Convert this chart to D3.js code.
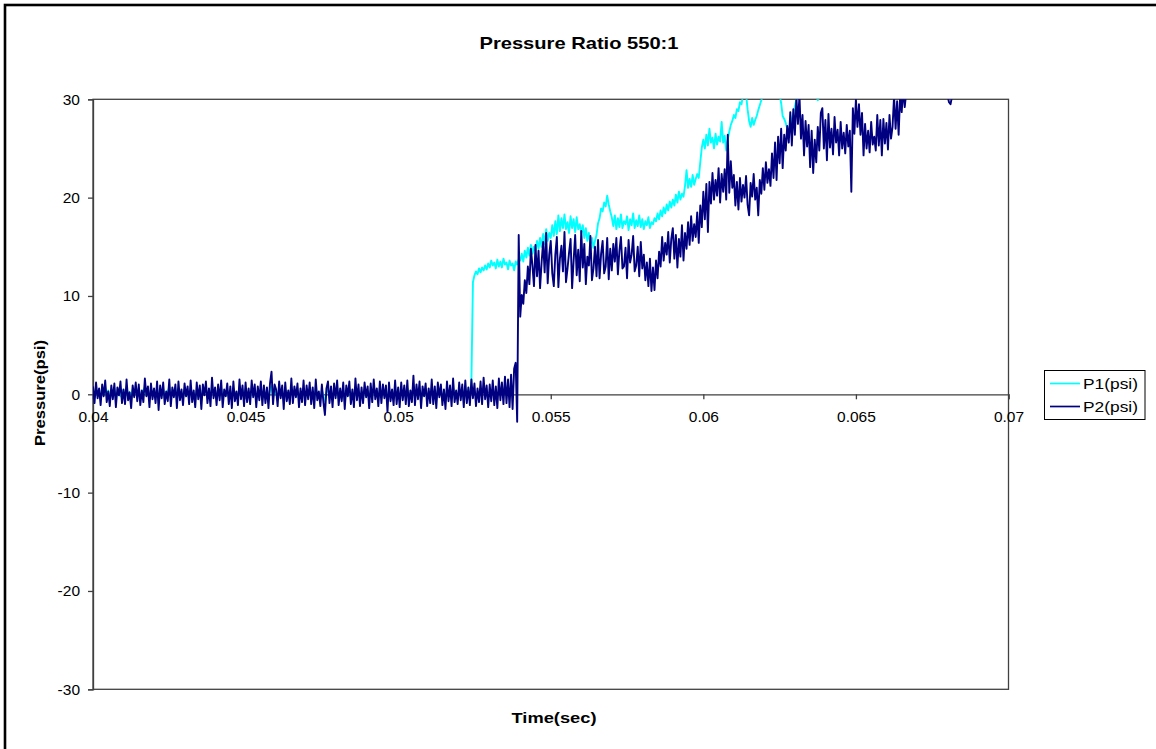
<!DOCTYPE html>
<html>
<head>
<meta charset="utf-8">
<script src="https://cdn.jsdelivr.net/npm/d3@7"></script>
<style>
  html, body { margin: 0; padding: 0; background: #fff; overflow: hidden; }
  svg { display: block; }
  text { font-family: "Liberation Sans", Arial, Helvetica, sans-serif; fill: #000; }
</style>
</head>
<body>
<svg id="chart" width="1156" height="749"></svg>
<script>
// Transducer readings, sampled every 50 microseconds from t = 0.04 s
const sampleStart = 0.04;
const sampleStep = 0.00005;

const p1Pressure = [
  0.4,-0.3,0.6,0.0,0.5,-0.4,0.3,0.1,0.7,-0.2,0.4,-0.5,0.2,0.3,0.6,-0.3,0.1,0.5,-0.2,0.4,
  0.3,-0.4,0.7,0.0,0.2,-0.5,0.5,0.1,0.4,-0.2,0.6,-0.3,0.0,0.4,0.7,-0.1,0.3,-0.4,0.5,0.2,
  0.1,-0.3,0.6,-0.5,0.4,0.0,0.5,-0.4,0.2,0.3,0.7,-0.2,0.1,0.4,0.5,-0.5,0.6,0.0,0.2,-0.3,
  0.5,0.1,0.3,-0.4,0.6,-0.2,0.0,-0.5,0.4,0.2,0.3,-0.6,0.5,0.1,0.6,-0.3,0.2,-0.4,0.8,0.0,
  0.3,-0.4,0.5,0.1,0.6,-0.5,0.2,0.0,0.4,-0.3,0.3,-0.5,0.6,-0.1,0.1,-0.4,0.7,0.0,0.4,-0.3,
  0.5,-0.2,0.2,-0.4,0.6,0.0,0.4,-0.5,0.3,0.1,0.5,-0.4,0.4,-0.2,0.2,-0.5,0.5,0.8,-0.3,0.4,
  0.1,-0.4,0.6,0.0,0.3,-0.6,0.5,-0.1,0.0,-0.3,0.7,-0.2,0.3,0.1,0.4,-0.5,0.2,-0.2,0.6,-0.4,
  0.3,0.0,0.5,-0.3,0.2,-0.5,0.6,-0.1,0.1,-0.4,0.4,-0.2,-0.7,0.2,0.5,-0.3,0.3,-0.5,0.4,0.0,
  0.6,-0.4,0.2,-0.1,0.5,-0.6,0.3,0.1,0.5,-0.3,0.2,-0.5,0.7,-0.2,0.4,-0.4,0.2,-0.3,0.5,0.0,
  0.3,-0.5,0.4,-0.2,0.6,-0.1,0.2,-0.4,0.5,-0.3,0.4,0.0,0.3,-0.6,0.5,-0.2,0.1,-0.4,0.6,-0.3,
  0.2,-0.5,0.5,-0.1,0.3,-0.3,0.6,-0.4,0.1,-0.2,0.8,-0.4,0.4,-0.1,0.5,-0.5,0.3,0.0,0.4,-0.4,
  0.2,-0.3,0.6,-0.3,0.3,-0.5,0.5,0.0,0.4,-0.4,0.1,-0.6,0.5,-0.2,0.3,-0.4,0.7,-0.3,0.1,-0.3,
  0.5,-0.1,0.4,-0.5,0.6,-0.3,0.3,-0.2,1.4,11.4,12.1,12.5,12.2,12.8,12.4,12.9,12.6,13.1,12.7,13.3,
  12.9,13.6,13.1,13.4,12.8,13.7,13.0,13.5,12.9,13.8,13.2,13.4,12.7,13.6,13.1,13.3,12.6,13.5,13.2,13.7,
  13.6,14.3,13.5,14.6,13.9,14.9,14.1,15.2,14.3,15.0,14.6,15.6,14.8,15.9,15.0,16.3,15.3,16.8,15.6,16.4,
  15.9,17.2,16.1,17.6,16.3,18.2,16.6,17.9,16.9,18.3,16.8,17.5,16.4,18.1,16.9,17.8,16.5,18.0,16.8,17.3,
  16.4,17.2,15.9,16.9,15.6,16.4,15.3,15.9,14.9,15.6,16.2,17.4,17.9,18.9,18.6,19.5,19.1,20.2,19.3,18.6,
  18.0,17.1,18.2,16.8,17.9,17.0,18.3,16.9,17.6,17.3,18.1,16.7,17.8,17.2,18.4,16.9,17.7,17.1,18.2,17.0,
  17.8,16.8,17.6,17.2,18.0,16.9,17.5,17.3,17.9,17.6,18.4,17.8,18.7,18.1,19.0,18.4,19.3,18.7,19.6,19.0,
  19.8,19.2,20.3,19.5,20.6,19.8,20.4,20.1,21.2,22.8,21.0,21.9,21.1,22.3,21.3,21.9,22.4,22.0,23.6,25.1,
  25.9,25.0,26.4,25.3,27.0,25.6,26.1,25.0,26.5,25.4,26.2,25.7,27.7,25.6,26.3,24.8,25.9,26.7,27.4,27.8,
  28.4,28.1,29.0,28.8,29.7,29.5,30.4,30.6,30.5,29.0,27.8,27.2,28.1,27.4,27.9,28.3,28.9,29.4,29.9,30.3,
  30.8,31.2,31.5,31.8,32.0,31.6,31.3,30.9,30.6,30.3,30.5,29.6,28.3,28.0,27.6,27.0,26.8,27.3,28.0,28.6,
  29.3,30.0,30.2,30.8,31.3,31.6,31.9,32.2,32.0,31.7,31.4,31.1,30.8,30.5,30.3,29.9,30.2,30.6,31.0,31.5,
  31.8,32.0,32.3,32.1,32.4
];

const p2Pressure = [
  0.8,-0.9,1.2,-0.4,0.6,-1.1,1.0,-0.2,1.4,-0.8,0.3,-1.2,0.9,-0.5,1.1,-1.3,0.7,-0.1,1.3,-0.9,
  0.5,-1.0,1.5,-0.6,0.2,-1.4,0.9,-0.3,1.2,-0.7,1.0,-1.1,0.4,-0.8,1.6,-0.2,0.8,-1.3,1.1,-0.5,
  0.6,-0.9,1.3,-1.6,0.9,-0.4,1.2,-1.0,0.3,-0.7,1.5,-1.2,0.7,-0.3,1.0,-1.4,1.3,-0.6,0.5,-1.1,
  1.1,-0.2,0.8,-1.0,1.4,-0.8,0.4,-1.3,1.2,-0.5,0.9,-1.5,1.0,-0.1,1.3,-0.9,0.6,-1.2,1.7,-0.4,
  0.7,-1.1,1.0,-0.6,1.4,-1.3,0.5,-0.2,1.1,-1.0,0.8,-1.4,1.3,-0.7,0.3,-1.1,1.5,-0.5,0.9,-1.2,
  1.2,-0.8,0.6,-1.0,1.4,-0.3,1.0,-1.3,0.8,-0.6,1.3,-1.1,0.9,-0.9,0.7,-1.4,1.1,2.3,-1.0,1.0,
  0.5,-1.2,1.3,-0.4,0.9,-1.5,1.2,-0.7,0.4,-1.0,1.6,-0.9,0.8,-0.3,1.1,-1.3,0.6,-0.8,1.4,-1.1,
  0.9,-0.5,1.2,-1.0,0.7,-1.4,1.5,-0.6,0.3,-1.2,1.0,-0.8,-2.1,0.6,1.3,-0.9,0.8,-1.3,1.1,-0.4,
  1.4,-1.1,0.6,-0.7,1.2,-1.5,0.9,-0.2,1.3,-1.0,0.5,-1.3,1.6,-0.6,1.0,-1.2,0.7,-0.9,1.2,-0.3,
  0.8,-1.4,1.1,-0.8,1.5,-0.5,0.6,-1.2,1.3,-0.9,1.0,-0.4,0.9,-1.8,1.2,-0.7,0.5,-1.1,1.4,-1.0,
  0.7,-1.3,1.2,-0.6,0.9,-1.0,1.4,-1.2,0.4,-0.8,1.9,-1.1,1.0,-0.5,1.3,-1.4,0.8,-0.2,1.1,-1.2,
  0.6,-0.9,1.5,-1.0,0.8,-1.4,1.2,-0.3,1.0,-1.1,0.5,-1.5,1.3,-0.7,0.9,-1.2,1.6,-0.8,0.4,-1.0,
  1.2,-0.6,1.0,-1.3,1.4,-0.9,0.7,-1.1,1.5,-0.4,1.1,-1.2,0.6,-0.8,1.3,-1.0,1.7,-0.5,0.9,-1.3,
  1.0,-0.7,1.4,-1.1,0.8,-1.4,1.6,-0.6,1.2,-1.0,1.8,-0.9,1.5,-1.3,2.0,-1.5,2.6,3.2,-2.8,16.2,
  7.9,10.1,9.2,11.6,10.3,13.0,11.2,14.8,13.1,11.0,15.2,12.0,14.6,10.8,13.4,15.5,12.4,16.4,11.3,14.2,
  15.6,12.3,11.0,14.2,16.0,10.9,13.8,15.1,12.5,16.5,11.4,12.8,14.4,15.8,10.8,13.6,16.2,12.1,14.7,11.5,
  16.6,12.9,15.3,11.2,14.0,13.1,16.1,11.6,12.8,15.0,12.0,15.7,11.8,14.3,15.6,12.3,13.0,15.9,11.7,14.8,
  12.6,15.3,13.5,15.9,12.2,14.6,16.0,12.8,13.0,14.9,11.8,15.7,13.4,14.2,16.1,12.5,13.1,15.0,12.0,15.5,
  12.8,14.2,11.6,13.4,11.0,13.8,10.5,12.9,10.6,13.6,11.8,14.5,13.0,16.0,13.6,15.4,14.2,16.5,13.4,15.8,
  16.9,13.8,16.2,12.9,15.8,14.0,17.2,13.6,16.4,14.8,17.5,15.2,18.1,15.6,17.3,16.0,18.5,15.4,19.2,17.0,
  20.6,17.8,21.4,16.5,21.6,19.4,22.5,19.8,21.8,20.2,23.0,19.5,22.4,20.6,22.9,19.8,26.4,20.5,23.7,21.0,
  22.3,19.2,21.6,18.8,22.0,19.6,21.3,20.0,22.2,19.3,18.2,21.5,20.1,22.4,19.8,21.0,18.2,21.8,20.4,23.0,
  20.8,23.6,21.5,22.9,21.2,24.5,22.0,25.6,21.8,26.2,23.5,27.0,23.0,26.4,24.8,27.3,25.6,28.7,25.3,29.0,
  26.4,30.2,27.5,30.4,26.0,28.4,24.3,27.8,25.2,27.4,23.1,26.8,22.5,25.9,23.6,27.2,24.8,28.6,29.1,25.0,
  27.9,23.8,28.5,25.1,27.0,24.4,28.2,25.6,26.9,24.3,27.7,25.0,26.6,24.5,27.4,25.2,26.8,20.6,29.1,26.5,
  30.0,27.2,29.5,26.4,28.6,24.3,27.5,25.0,26.8,24.6,27.7,25.4,26.2,24.8,28.4,25.3,27.9,24.3,28.0,25.5,
  27.6,24.9,28.4,26.0,27.2,30.3,27.0,29.8,26.4,30.5,28.7,31.0,29.2,30.8,31.5,32.0,31.2,32.5,31.8,32.2,
  33.0,32.4,31.6,32.8,33.5,32.1,31.8,32.9,33.4,32.6,31.9,32.7,33.2,32.0,31.5,32.3,31.4,30.8,31.2,30.6,
  30.4,29.7,29.5,30.3,31.0,31.8,32.5,31.6,32.2,33.0
];

const seriesNames = ["P1(psi)", "P2(psi)"];
const seriesColors = ["#00ffff", "#000080"];
const xTicks = [0.04, 0.045, 0.05, 0.055, 0.06, 0.065, 0.07];
const yTicks = [-30, -20, -10, 0, 10, 20, 30];
const chartTitle = "Pressure Ratio 550:1";
const xTitle = "Time(sec)";
const yTitle = "Pressure(psi)";

const svg = d3.select("#chart");

// outer chart frame (runs past the right and bottom edges)
svg.append("rect")
  .attr("x", 5).attr("y", 5)
  .attr("width", 1300).attr("height", 900)
  .attr("fill", "#fff")
  .attr("stroke", "#000").attr("stroke-width", 2.6);

const plot = { left: 93, right: 1008.5, top: 99.3, bottom: 689.3 };

const x = d3.scaleLinear().domain([0.04, 0.07]).range([plot.left, plot.right]);
const y = d3.scaleLinear().domain([-30, 30]).range([plot.bottom, plot.top]);

svg.append("defs").append("clipPath").attr("id", "plotClip")
  .append("rect")
  .attr("x", plot.left).attr("y", plot.top)
  .attr("width", plot.right - plot.left).attr("height", plot.bottom - plot.top);

// plot area frame
svg.append("rect")
  .attr("x", plot.left).attr("y", plot.top)
  .attr("width", plot.right - plot.left).attr("height", plot.bottom - plot.top)
  .attr("fill", "none").attr("stroke", "#404040").attr("stroke-width", 1.3);

// y axis on the left edge
const yAxis = d3.axisLeft(y).tickValues(yTicks).tickSize(5).tickPadding(8)
  .tickFormat(d => String(d));
const gy = svg.append("g").attr("transform", `translate(${plot.left},0)`).call(yAxis);
gy.select(".domain").attr("stroke", "#404040").attr("stroke-width", 1.3);
gy.selectAll(".tick line").attr("stroke", "#404040").attr("stroke-width", 1.3);
gy.selectAll(".tick text").attr("font-size", 15.5).attr("font-family", "Liberation Sans, Arial, sans-serif")
  .attr("fill", "#000");

// x axis crossing at zero pressure
const xAxis = d3.axisBottom(x).tickValues(xTicks).tickSize(5).tickPadding(12)
  .tickFormat(d => String(+d.toFixed(3)));
const gx = svg.append("g").attr("transform", `translate(0,${y(0)})`).call(xAxis);
gx.select(".domain").attr("stroke", "#404040").attr("stroke-width", 1.3);
gx.selectAll(".tick line").attr("stroke", "#404040").attr("stroke-width", 1.3);
gx.selectAll(".tick text").attr("font-size", 15.5).attr("font-family", "Liberation Sans, Arial, sans-serif")
  .attr("fill", "#000").attr("dy", "0.71em");

// pressure traces
const toPoints = vals => vals.map((v, i) => ({ t: sampleStart + i * sampleStep, p: v }));
const line = d3.line().x(d => x(d.t)).y(d => y(d.p));
const traces = svg.append("g").attr("clip-path", "url(#plotClip)");
[p1Pressure, p2Pressure].forEach((vals, k) => {
  traces.append("path")
    .datum(toPoints(vals))
    .attr("d", line)
    .attr("fill", "none")
    .attr("stroke", seriesColors[k])
    .attr("stroke-width", 1.9)
    .attr("stroke-linejoin", "round");
});

// titles
svg.append("text")
  .attr("x", 579).attr("y", 49)
  .attr("text-anchor", "middle")
  .attr("font-size", 17).attr("font-weight", "bold")
  .attr("textLength", 199).attr("lengthAdjust", "spacingAndGlyphs")
  .text(chartTitle);

svg.append("text")
  .attr("x", 554).attr("y", 723)
  .attr("text-anchor", "middle")
  .attr("font-size", 15).attr("font-weight", "bold")
  .attr("textLength", 85).attr("lengthAdjust", "spacingAndGlyphs")
  .text(xTitle);

svg.append("text")
  .attr("transform", "translate(45,393) rotate(-90)")
  .attr("text-anchor", "middle")
  .attr("font-size", 15).attr("font-weight", "bold")
  .attr("textLength", 106).attr("lengthAdjust", "spacingAndGlyphs")
  .text(yTitle);

// legend
const legend = svg.append("g");
legend.append("rect")
  .attr("x", 1044.5).attr("y", 370.5).attr("width", 100.5).attr("height", 49)
  .attr("fill", "#fff").attr("stroke", "#000").attr("stroke-width", 1);
seriesNames.forEach((name, k) => {
  const ly = 383.5 + k * 23;
  legend.append("line")
    .attr("x1", 1050).attr("x2", 1080).attr("y1", ly).attr("y2", ly)
    .attr("stroke", seriesColors[k]).attr("stroke-width", 1.7);
  legend.append("text")
    .attr("x", 1083).attr("y", ly + 5)
    .attr("font-size", 15.5)
    .attr("textLength", 55).attr("lengthAdjust", "spacingAndGlyphs")
    .text(name);
});
</script>
</body>
</html>
